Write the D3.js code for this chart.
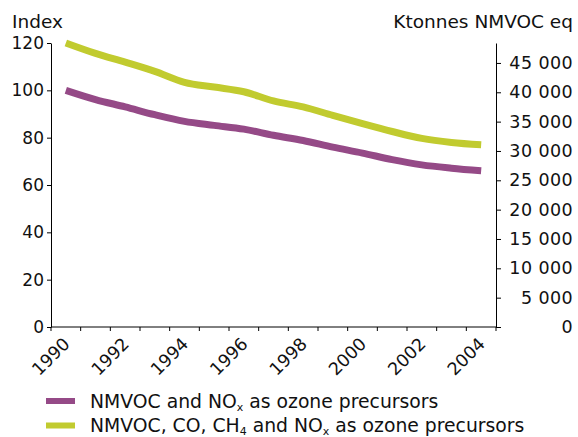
<!DOCTYPE html>
<html>
<head>
<meta charset="utf-8">
<script src="https://cdn.jsdelivr.net/npm/d3@7"></script>
<style>
  body { margin: 0; background: #fff; }
  svg text { font-family: "DejaVu Sans", Verdana, sans-serif; fill: #111; }
</style>
</head>
<body>
<div id="chart"></div>
<script>
// data (index, 1990 = 100)
var years = [1990, 1991, 1992, 1993, 1994, 1995, 1996, 1997, 1998, 1999, 2000, 2001, 2002, 2003, 2004];
var nmvocNox = [100, 96.1, 93, 89.7, 86.9, 85.2, 83.6, 81, 78.8, 76, 73.5, 70.7, 68.5, 67.1, 66];
var allPrecursors = [120, 115.6, 111.9, 108, 103.4, 101.4, 99.4, 95.5, 93, 89.4, 85.9, 82.6, 79.7, 78, 77];
var indexTicks = [0, 20, 40, 60, 80, 100, 120];
var ktTicks = [0, 5000, 10000, 15000, 20000, 25000, 30000, 35000, 40000, 45000];
var ktMax = 48400;

var W = 578, H = 437;
var margin = {top: 43, right: 82, bottom: 110, left: 51},
    width = W - margin.left - margin.right,
    height = H - margin.top - margin.bottom;

var svg = d3.select("#chart")
  .append("svg")
    .attr("width", W)
    .attr("height", H)
  .append("g")
    .attr("transform", "translate(" + margin.left + "," + margin.top + ")");

var x = d3.scaleBand()
  .domain(years)
  .range([0, width]);

var y = d3.scaleLinear()
  .domain([0, 120])
  .range([height, 0]);

var y2 = d3.scaleLinear()
  .domain([0, ktMax])
  .range([height, 0]);

var fmt = function(d) { return d3.format(",")(d).replace(/,/g, " "); };

// left axis
var yAxis = svg.append("g")
  .call(d3.axisLeft(y).tickValues(indexTicks).tickSize(4).tickPadding(3).tickSizeOuter(0));
yAxis.selectAll("text").style("font-size", "17px");

// right axis
var y2Axis = svg.append("g")
  .attr("transform", "translate(" + width + ",0)")
  .call(d3.axisRight(y2).tickValues(ktTicks).tickFormat(fmt).tickSize(5).tickSizeOuter(0));
y2Axis.selectAll("text")
  .attr("x", W - margin.left - width - 5)
  .style("text-anchor", "end")
  .style("font-size", "17.5px")
  .style("letter-spacing", "0.4px");

// bottom axis: ticks on category boundaries, labels on every other category
var xAxis = svg.append("g")
  .attr("transform", "translate(0," + height + ")");
xAxis.append("line")
  .attr("x1", 0).attr("x2", width)
  .attr("stroke", "#000");
xAxis.selectAll(".xtick")
  .data(years.concat([null]))
  .enter()
  .append("line")
    .attr("class", "xtick")
    .attr("x1", function(d, i) { return i * x.step(); })
    .attr("x2", function(d, i) { return i * x.step(); })
    .attr("y1", 0)
    .attr("y2", 4)
    .attr("stroke", "#000");
xAxis.selectAll(".xlabel")
  .data(years.filter(function(d) { return d % 2 == 0; }))
  .enter()
  .append("text")
    .attr("class", "xlabel")
    .attr("transform", function(d) {
      return "translate(" + (x(d) + x.bandwidth() / 2 + 5) + ",18) rotate(-45)";
    })
    .style("text-anchor", "end")
    .style("font-size", "17.5px")
    .text(function(d) { return d; });

svg.selectAll(".domain, .tick line").attr("stroke", "#000");
svg.selectAll(".tick text").attr("fill", "#111");

// axis titles
svg.append("text")
  .attr("x", -39).attr("y", -15)
  .style("font-size", "18.5px")
  .text("Index");
svg.append("text")
  .attr("x", W - margin.left - 5).attr("y", -15)
  .style("text-anchor", "end")
  .style("font-size", "18.5px")
  .text("Ktonnes NMVOC eq");

// lines
var line = d3.line()
  .x(function(d, i) { return x(years[i]) + x.bandwidth() / 2; })
  .y(function(d) { return y(d); })
  .curve(d3.curveMonotoneX);

var series = [
  {values: nmvocNox, color: "#954a87"},
  {values: allPrecursors, color: "#c1cb2f"}
];

svg.selectAll(".myLine")
  .data(series)
  .enter()
  .append("path")
    .attr("class", "myLine")
    .attr("d", function(d) { return line(d.values); })
    .attr("fill", "none")
    .attr("stroke", function(d) { return d.color; })
    .attr("stroke-width", 7);

// legend
var legend = svg.append("g")
  .attr("transform", "translate(" + (46 - margin.left) + "," + (401 - margin.top) + ")");

var legendRows = [
  {color: "#954a87", parts: [["NMVOC and NO", 0], ["x", 1], [" as ozone precursors", 0]]},
  {color: "#c1cb2f", parts: [["NMVOC, CO, CH", 0], ["4", 1], [" and NO", 0], ["x", 1], [" as ozone precursors", 0]]}
];

var row = legend.selectAll(".lrow")
  .data(legendRows)
  .enter()
  .append("g")
    .attr("class", "lrow")
    .attr("transform", function(d, i) { return "translate(0," + i * 24.5 + ")"; });

row.append("rect")
  .attr("x", 0).attr("y", -3)
  .attr("width", 29).attr("height", 6)
  .attr("fill", function(d) { return d.color; });

var txt = row.append("text")
  .attr("x", 44).attr("y", 6.5)
  .style("font-size", "18.8px");

txt.selectAll("tspan")
  .data(function(d) { return d.parts; })
  .enter()
  .append("tspan")
    .attr("baseline-shift", function(d) { return d[1] ? "-25%" : null; })
    .style("font-size", function(d) { return d[1] ? "11px" : "18.8px"; })
    .text(function(d) { return d[0]; });
</script>
</body>
</html>
